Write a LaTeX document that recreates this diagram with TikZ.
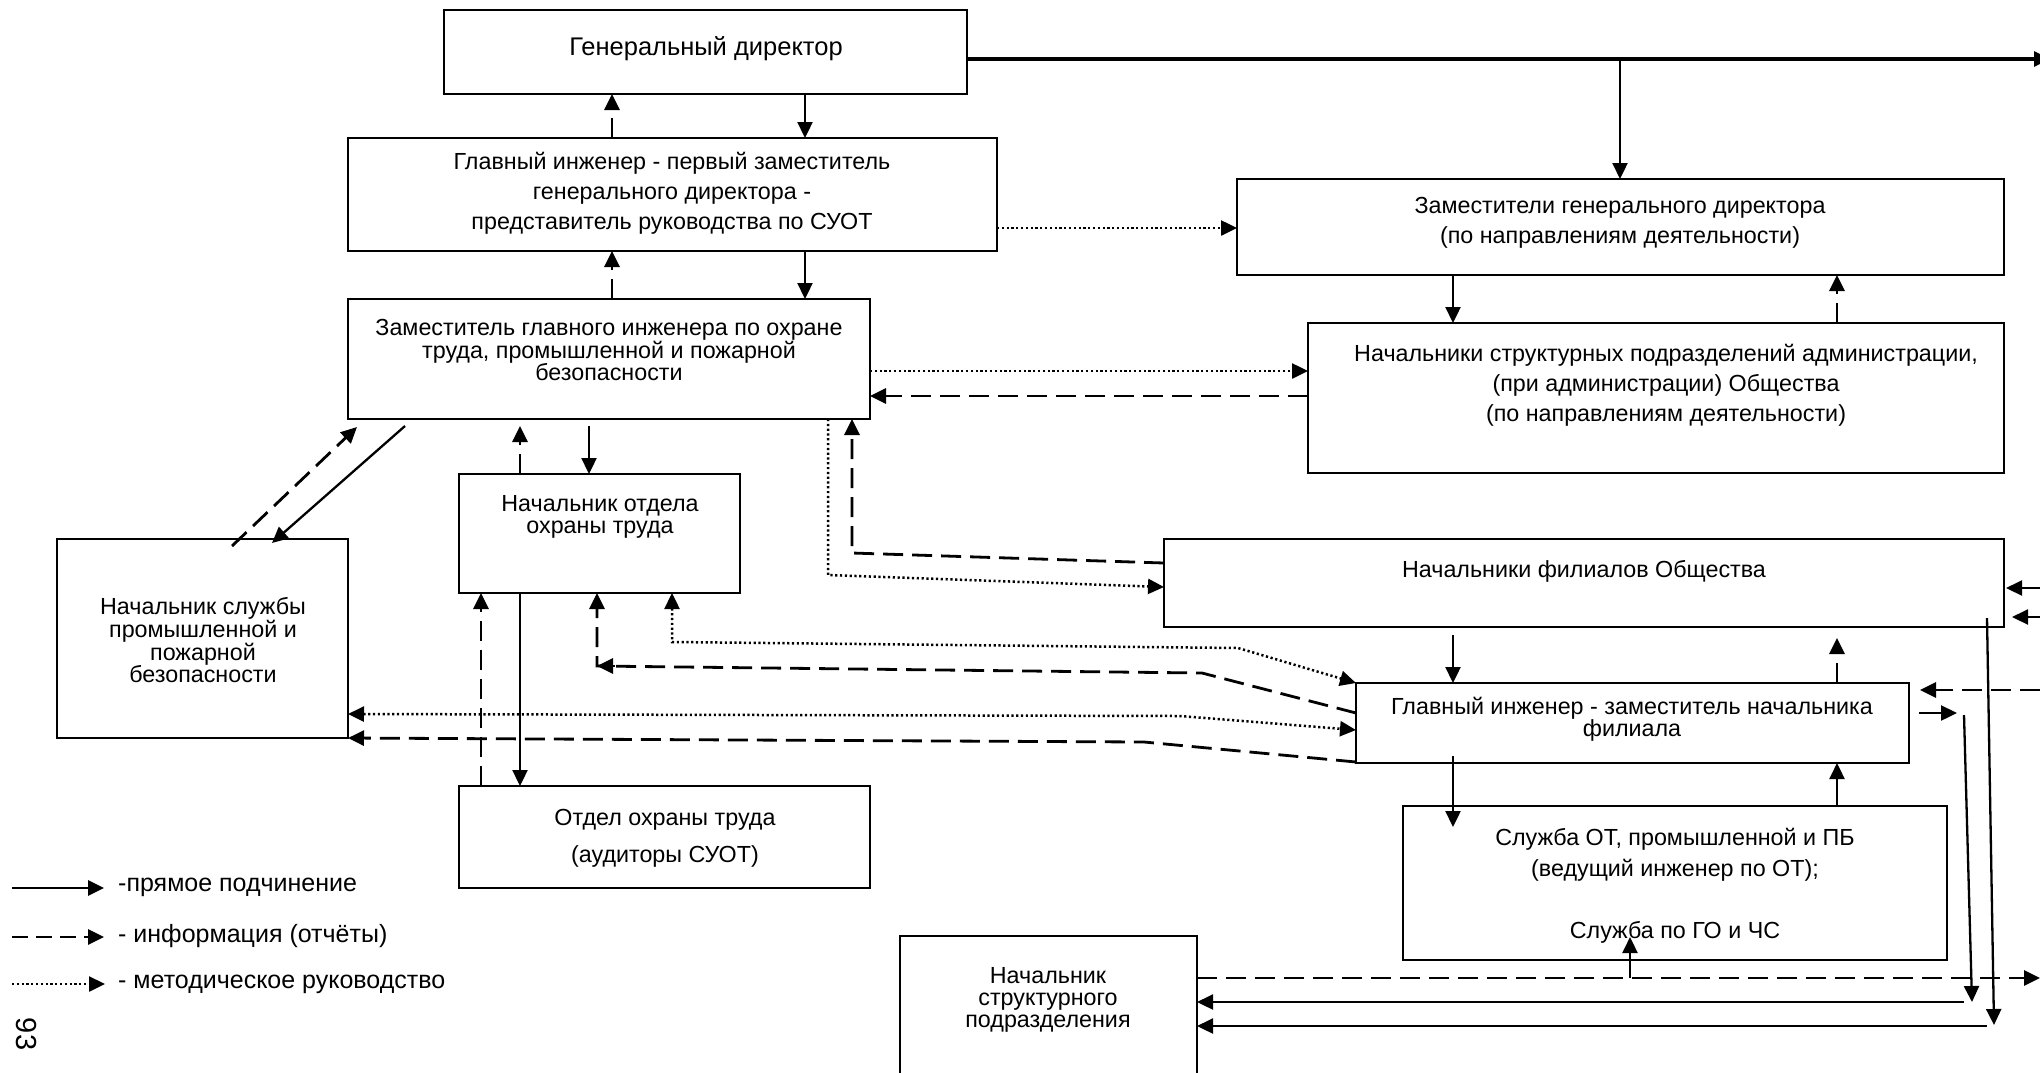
\documentclass[tikz,border=0pt]{standalone}
\usepackage{fontspec}
\setmainfont{Liberation Sans}
\usetikzlibrary{arrows.meta,calc,fit}
\begin{document}
\begin{tikzpicture}[x=1pt,y=-1pt,
  box/.style={draw, line width=2.6pt, inner sep=0pt, outer sep=0pt, rectangle},
  txt/.style={inner sep=0pt, align=center, font=\fontsize{23.3}{30}\selectfont},
  tight/.style={font=\fontsize{23.3}{22}\selectfont},
  tip/.style={-{Triangle[length=16pt,width=15pt]}},
  btip/.style={{Triangle[length=16pt,width=15pt]}-{Triangle[length=16pt,width=15pt]}},
  sol/.style={line width=2.3pt, tip},
  das/.style={line width=2.8pt, dash pattern=on 20pt off 9pt, tip},
  dot/.style={line width=2.5pt, dash pattern=on 2.2pt off 2.6pt, tip},
  leg/.style={inner sep=0pt, anchor=west, font=\fontsize{25}{28}\selectfont}
]
\useasboundingbox (0,0) rectangle (2040,1072);

% boxes
\node[box, fit={(444,10) (967,94)}] (gd) {};
\node[box, fit={(348,138) (997,251)}] (gi) {};
\node[box, fit={(348,299) (870,419)}] (zgi) {};
\node[box, fit={(1237,179) (2004,275)}] (zgd) {};
\node[box, fit={(1308,323) (2004,473)}] (nsp) {};
\node[box, fit={(459,474) (740,593)}] (no) {};
\node[box, fit={(57,539) (348,738)}] (ns) {};
\node[box, fit={(459,786) (870,888)}] (oot) {};
\node[box, fit={(1164,539) (2004,627)}] (nf) {};
\node[box, fit={(1356,683) (1909,763)}] (gif) {};
\node[box, fit={(1403,806) (1947,960)}] (sot) {};
\node[box, fit={(900,936) (1197,1100)}] (nsu) {};

% texts
\node[txt, font=\fontsize{25.5}{30}\selectfont] (gdt) at (706,49) {Генеральный директор};
\node[txt] (git) at (672,193) {Главный инженер - первый заместитель\\генерального директора -\\представитель руководства по СУОТ};
\node[txt, tight] (zgit) at (609,350) {Заместитель главного инженера по охране\\труда, промышленной и пожарной\\безопасности};
\node[txt] (zgdt) at (1620,223) {Заместители генерального директора\\(по направлениям деятельности)};
\node[txt] (nspt) at (1666,385) {Начальники структурных подразделений администрации,\\(при администрации) Общества\\(по направлениям деятельности)};
\node[txt, tight] (not) at (600,517) {Начальник отдела\\охраны труда};
\node[txt, tight] (nst) at (203,640) {Начальник службы\\промышленной и\\пожарной\\безопасности};
\node[txt, font=\fontsize{23.3}{37}\selectfont] (oott) at (665,838) {Отдел охраны труда\\(аудиторы СУОТ)};
\node[txt] (nft) at (1584,571) {Начальники филиалов Общества};
\node[txt, tight] (gift) at (1632,719) {Главный инженер - заместитель начальника\\филиала};
\node[txt, font=\fontsize{23.3}{31}\selectfont] (sott) at (1675,886) {Служба ОТ, промышленной и ПБ\\(ведущий инженер по ОТ);\\[31pt]Служба по ГО и ЧС};
\node[txt, tight] (nsut) at (1048,1000) {Начальник\\структурного\\подразделения};

% connectors
\coordinate (eR1) at (2050,59);
\draw[sol, line width=3.2pt] (gd.east |- 0,59) -- (eR1);
\coordinate (br) at (1620,59);
\draw[sol] (br) -- (zgd.north -| br);
\draw[sol] (gd.south -| 805,0) -- (gi.north -| 805,0);
\draw[das] (gi.north -| 612,0) -- (gd.south -| 612,0);
\draw[sol] (gi.south -| 805,0) -- (zgi.north -| 805,0);
\draw[das] (zgi.north -| 612,0) -- (gi.south -| 612,0);
\draw[dot] (gi.east |- 0,228) -- (zgd.west |- 0,228);
\draw[dot] (zgi.east |- 0,371) -- (nsp.west |- 0,371);
\draw[das] (nsp.west |- 0,396) -- (zgi.east |- 0,396);
\draw[sol] (zgd.south -| 1453,0) -- (nsp.north -| 1453,0);
\draw[das] (nsp.north -| 1837,0) -- (zgd.south -| 1837,0);
\draw[sol] ($(zgi.south -| 405,0)+(0,7)$) -- ($(ns.north -| 272,0)+(0,4)$);
\draw[das] ($(ns.north -| 232,0)+(0,7)$) -- ($(zgi.south -| 357,0)+(0,8)$);
\draw[sol] ($(zgi.south -| 589,0)+(0,7)$) -- (no.north -| 589,0);
\draw[das] (no.north -| 520,0) -- ($(zgi.south -| 520,0)+(0,7)$);
\draw[sol] (no.south -| 520,0) -- (oot.north -| 520,0);
\draw[das] (oot.north -| 481,0) -- (no.south -| 481,0);
\draw[dot] (zgi.south -| 828,0) -- (828,575) -- (nf.west |- 0,587);
\draw[das] (nf.west |- 0,563) -- (852,553) -- (zgi.south -| 852,0);
\draw[dot, btip] (no.south -| 672,0) -- (672,642) -- (1238,648) -- (gif.north west);
\draw[das] (gif.west |- 0,713) -- (1202,673) -- (597,666) -- (no.south -| 597,0);
\coordinate (cn) at (597,666);
\draw[line width=2.8pt, tip] ($(cn)+(18,0)$) -- (cn);
\draw[dot, btip] (ns.east |- 0,714) -- (1180,716) -- (gif.west |- 0,730);
\draw[das] (gif.west |- 0,762) -- (1144,742) -- (ns.east |- 0,738);
\draw[sol] ($(nf.south -| 1453,0)+(0,8)$) -- (gif.north -| 1453,0);
\draw[das] (gif.north -| 1837,0) -- ($(nf.south -| 1837,0)+(0,11)$);
\draw[sol] ($(gif.south -| 1453,0)+(0,-7)$) -- ($(sot.north -| 1453,0)+(0,21)$);
\draw[sol] (sot.north -| 1837,0) -- (gif.south -| 1837,0);
\coordinate (eR2) at (2040,978);
\draw[das] (nsu.east |- 0,978) -- (eR2);
\coordinate (go) at (1630,978);
\draw[sol] (go) -- ($(sot.south -| 1630,0)+(0,-23)$);
\coordinate (v2b) at (1994,1025);
\draw[sol] ($(nf.south -| 1987,0)+(0,-9)$) -- (v2b);
\coordinate (h2) at (1987,1026);
\draw[sol] (h2) -- (nsu.east |- 0,1026);
\coordinate (v1a) at (1964,715);
\coordinate (v1b) at (1972,1002);
\draw[sol] (v1a) -- (v1b);
\coordinate (h1) at (1964,1002);
\draw[sol] (h1) -- (nsu.east |- 0,1002);
\coordinate (gifo) at (1957,713);
\draw[sol] ($(gif.east |- 0,713)+(10,0)$) -- (gifo);
\coordinate (eR3) at (2040,690);
\draw[das] (eR3) -- ($(gif.east |- 0,690)+(11,0)$);
\coordinate (eR4) at (2040,588);
\draw[sol] (eR4) -- ($(nf.east |- 0,588)+(2,0)$);
\coordinate (eR5) at (2040,617);
\draw[sol] (eR5) -- ($(nf.east |- 0,617)+(8,0)$);

% legend
\coordinate (la1) at (12,888); \coordinate (lb1) at (104,888);
\coordinate (la2) at (12,937); \coordinate (lb2) at (104,937);
\coordinate (la3) at (12,984); \coordinate (lb3) at (105,984);
\draw[sol, line width=2.8pt] (la1) -- (lb1);
\draw[das, dash pattern=on 16pt off 8pt] (la2) -- (lb2);
\draw[dot] (la3) -- (lb3);
\node[leg] (l1) at (118,887) {-прямое подчинение};
\node[leg] (l2) at (118,936) {- информация (отчёты)};
\node[leg] (l3) at (118,984) {- методическое руководство};
\node[inner sep=0pt, rotate=-90, font=\fontsize{29}{30}\selectfont] (pg) at (26,1034) {93};
\end{tikzpicture}
\end{document}
